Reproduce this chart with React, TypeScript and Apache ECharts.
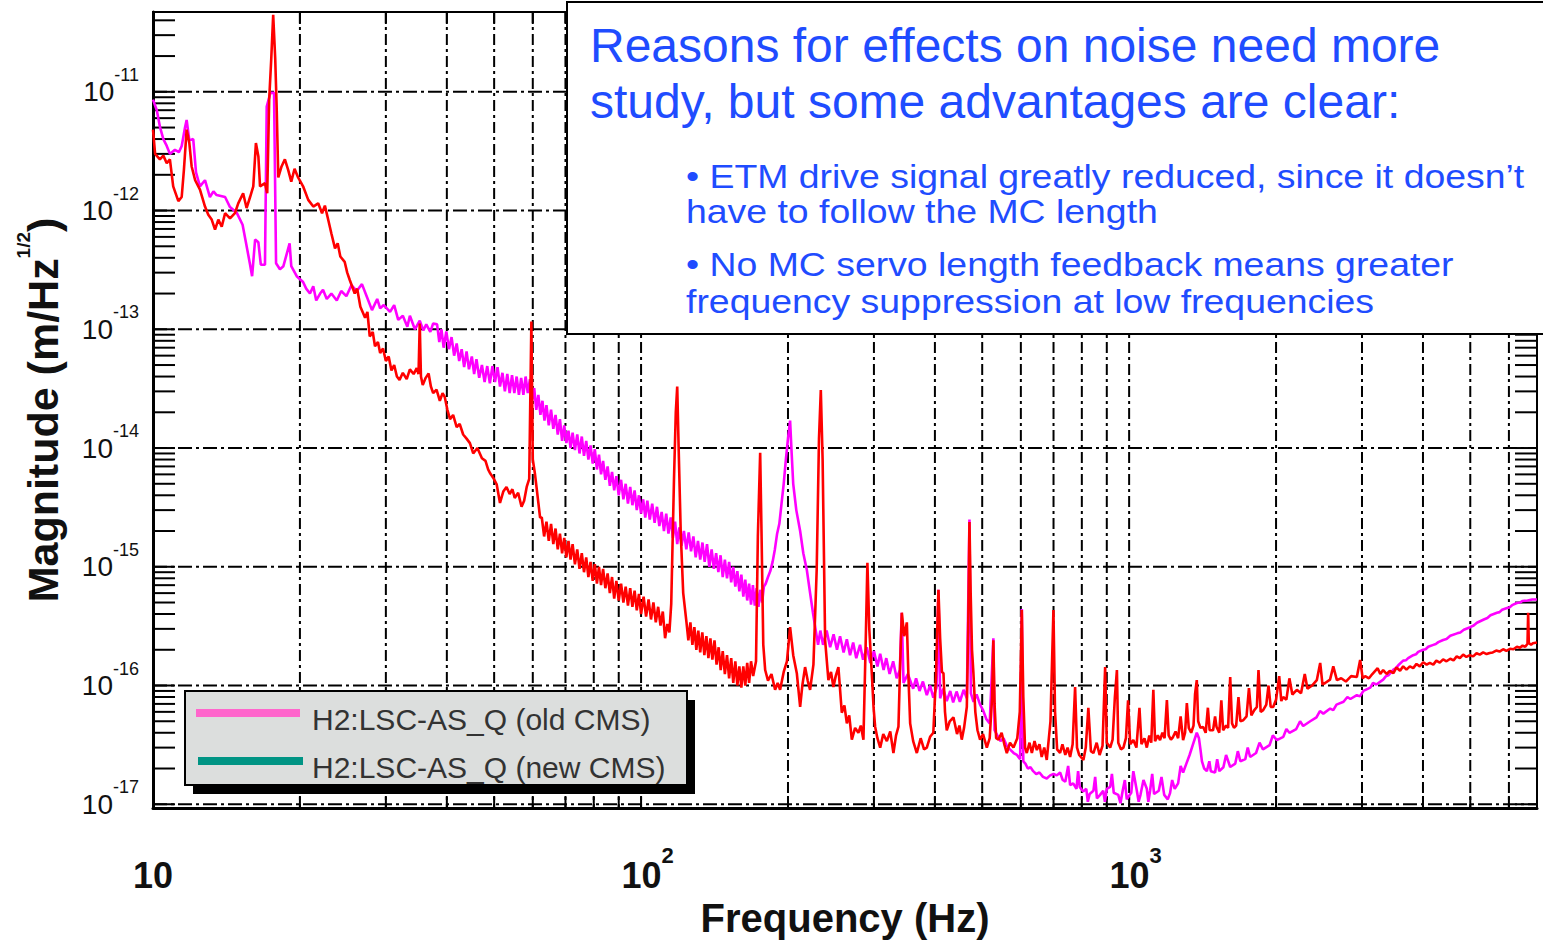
import React, { useEffect, useRef } from 'react';
import * as echarts from 'echarts';

const FONT = '"Liberation Sans", Arial, Helvetica, sans-serif';

const X_MIN = 10;
const X_MAX = 6850;
const Y_MIN = 9.3e-18;
const Y_MAX = 4.7e-11;

const X_GRID = [20, 30, 40, 50, 60, 70, 80, 90, 100, 200, 300, 400, 500, 600, 700, 800, 900, 1000, 2000, 3000, 4000, 5000, 6000];
const Y_GRID = [1e-17, 1e-16, 1e-15, 1e-14, 1e-13, 1e-12, 1e-11];
const MANTISSAS = [1, 2, 3, 4, 5, 6, 7, 8, 9];
const X_DECADES = [10, 100, 1000];

const SERIES_NAMES = ['H2:LSC-AS_Q (old CMS)', 'H2:LSC-AS_Q (new CMS)'];
const LEGEND_COLORS = ['#ff66cc', '#009484'];
const LINE_COLORS = ['#ff00ff', '#ff0000'];

const TITLE_LINES = ['Reasons for effects on noise need more', 'study, but some advantages are clear:'];
const BULLET_1 = ['\u2022 ETM drive signal greatly reduced, since it doesn\u2019t', 'have to follow the MC length'];
const BULLET_2 = ['\u2022 No MC servo length feedback means greater', 'frequency suppression at low frequencies'];

const OLD_CMS: [number, number][] = [
  [10.0, 8.6e-12], [10.18, 7.0e-12], [10.33, 5.1e-12], [10.5, 4.0e-12], [10.67, 3.5e-12], [10.83, 3.0e-12],
  [11.09, 3.25e-12], [11.3, 3.1e-12], [11.45, 3.5e-12], [11.63, 5.0e-12], [11.72, 5.8e-12], [11.87, 3.9e-12],
  [12.09, 4.0e-12], [12.25, 2.1e-12], [12.48, 1.6e-12], [12.78, 1.8e-12], [13.08, 1.3e-12], [13.3, 1.45e-12],
  [13.5, 1.35e-12], [14.05, 1.3e-12], [14.38, 1.07e-12], [14.84, 9.6e-13], [15.26, 7.6e-13], [15.5, 5.4e-13],
  [15.81, 3.5e-13], [15.96, 2.8e-13], [16.19, 5.7e-13], [16.44, 5.4e-13], [16.63, 3.5e-13], [16.96, 3.5e-13],
  [17.1, 7.5e-12], [17.4, 9.8e-12], [17.7, 9.8e-12], [17.87, 3.6e-13], [18.2, 3.2e-13], [18.5, 3.4e-13],
  [19.05, 5.3e-13], [19.2, 3.4e-13], [19.7, 2.8e-13], [20.3, 2.5e-13], [20.6, 2.2e-13], [20.97, 2.0e-13],
  [21.3, 2.3e-13], [21.6, 1.75e-13], [22.0, 2.0e-13], [22.3, 2.15e-13], [22.7, 1.8e-13], [23.2, 2.0e-13],
  [23.8, 1.75e-13], [24.3, 2.1e-13], [24.9, 1.9e-13], [25.5, 2.35e-13], [26.15, 2.1e-13], [26.8, 2.4e-13],
  [27.4, 1.9e-13], [28.1, 1.45e-13], [28.8, 1.8e-13], [29.2, 1.5e-13], [29.7, 1.6e-13], [30.6, 1.4e-13],
  [31.2, 1.6e-13], [31.8, 1.2e-13], [32.5, 1.3e-13], [33.2, 1.05e-13], [33.6, 1.3e-13], [34.4, 1.0e-13],
  [35.2, 1.18e-13], [35.8, 9.8e-14], [36.3, 1.1e-13], [37.0, 9.5e-14], [37.5, 1.12e-13],
  [38.2, 1.1e-13], [38.6, 7.8e-14], [39.0, 1.0e-13], [39.4, 7.0e-14], [39.9, 9.6e-14], [40.4, 6.8e-14],
  [40.9, 8.6e-14], [41.4, 6.0e-14], [41.9, 7.6e-14], [42.4, 5.4e-14], [42.9, 6.8e-14], [43.4, 4.8e-14],
  [43.9, 6.5e-14], [44.4, 4.6e-14], [45.0, 5.9e-14], [45.5, 4.2e-14], [46.0, 5.6e-14], [46.6, 3.9e-14],
  [47.2, 5.0e-14], [47.8, 3.6e-14], [48.4, 4.9e-14], [49.0, 3.5e-14], [49.6, 4.9e-14], [50.2, 3.6e-14],
  [50.8, 4.8e-14], [51.4, 3.3e-14], [52.0, 4.3e-14], [52.6, 3.0e-14], [53.2, 4.2e-14], [53.8, 2.9e-14],
  [54.4, 4.1e-14], [55.0, 2.9e-14], [55.6, 4.0e-14], [56.2, 2.8e-14], [56.8, 3.9e-14], [57.4, 2.8e-14],
  [58.0, 4.0e-14], [58.6, 2.9e-14], [59.2, 3.8e-14], [59.8, 2.5e-14], [60.4, 3.2e-14], [61.0, 2.1e-14],
  [61.6, 2.8e-14], [62.2, 1.9e-14], [62.8, 2.5e-14], [63.4, 1.7e-14], [64.0, 2.3e-14], [64.7, 1.55e-14],
  [65.4, 2.1e-14], [66.1, 1.45e-14], [66.8, 1.9e-14], [67.5, 1.3e-14], [68.2, 1.75e-14], [68.9, 1.15e-14],
  [69.6, 1.55e-14], [70.3, 1.1e-14], [71.0, 1.4e-14], [71.7, 1.0e-14], [72.4, 1.35e-14], [73.2, 9.6e-15],
  [74.0, 1.3e-14], [74.8, 9.0e-15], [75.6, 1.25e-14], [76.4, 8.6e-15], [77.2, 1.15e-14], [78.0, 8.0e-15],
  [78.8, 1.05e-14], [79.6, 7.4e-15], [80.4, 9.8e-15], [81.2, 6.6e-15], [82.0, 8.8e-15], [82.8, 6.0e-15],
  [83.6, 7.8e-15], [84.5, 5.4e-15], [85.4, 7.0e-15], [86.3, 4.8e-15], [87.2, 6.3e-15], [88.1, 4.4e-15],
  [89.0, 5.8e-15], [90.0, 4.0e-15], [91.0, 5.4e-15], [92.0, 3.7e-15], [93.0, 5.0e-15], [94.0, 3.4e-15],
  [95.0, 4.7e-15], [96.0, 3.3e-15], [97.0, 4.4e-15], [98.0, 3.0e-15], [99.0, 4.0e-15], [100.0, 2.8e-15],
  [101.0, 3.7e-15], [102.0, 2.6e-15], [103.0, 3.6e-15], [104.2, 2.5e-15], [105.4, 3.4e-15], [106.6, 2.35e-15],
  [107.8, 3.2e-15], [109.0, 2.2e-15], [110.2, 2.9e-15], [111.4, 2.0e-15], [112.6, 2.8e-15], [113.8, 1.9e-15],
  [115.0, 2.6e-15], [116.2, 1.75e-15], [117.4, 2.4e-15], [118.6, 1.55e-15], [119.8, 2.15e-15], [121.0, 1.5e-15],
  [122.4, 2.0e-15], [123.8, 1.4e-15], [125.2, 1.95e-15], [126.6, 1.35e-15], [128.0, 1.8e-15], [129.4, 1.2e-15],
  [130.8, 1.65e-15], [132.2, 1.15e-15], [133.6, 1.6e-15], [135.0, 1.1e-15], [136.5, 1.55e-15], [138.0, 1.0e-15],
  [139.5, 1.4e-15], [141.0, 9.6e-16], [142.5, 1.3e-15], [144.0, 9.0e-16], [145.5, 1.25e-15], [147.0, 8.2e-16],
  [148.5, 1.15e-15], [150.0, 8.0e-16], [151.5, 1.1e-15], [153.0, 7.4e-16], [154.5, 1.0e-15], [156.0, 6.8e-16],
  [157.5, 9.2e-16], [159.0, 6.2e-16], [160.5, 8.6e-16], [162.0, 5.6e-16], [163.5, 7.8e-16], [165.0, 5.2e-16],
  [166.5, 7.2e-16], [168.0, 4.8e-16], [169.5, 7.0e-16], [171.0, 4.7e-16], [172.5, 6.6e-16], [174.0, 4.6e-16],
  [175.5, 6.4e-16], [177.0, 5.0e-16], [178.5, 6.8e-16], [180.0, 7.2e-16],
  [182.0, 8.2e-16], [184.0, 9.2e-16], [186.0, 1.1e-15], [188.0, 1.4e-15], [190.0, 1.9e-15], [192.0, 2.3e-15],
  [194.0, 3.4e-15], [196.0, 5.0e-15], [198.0, 8.0e-15], [200.0, 1.2e-14], [202.0, 1.7e-14], [203.5, 9.0e-15],
  [205.0, 5.0e-15], [208.0, 3.0e-15], [211.8, 2.0e-15], [215.0, 1.3e-15], [218.6, 9.4e-16], [222.0, 6.0e-16],
  [225.0, 4.1e-16], [228.0, 2.9e-16], [230.5, 2.2e-16], [233.0, 2.9e-16], [236.0, 2.2e-16], [240.0, 2.9e-16],
  [244.0, 2.1e-16], [248.0, 2.7e-16], [252.0, 2.0e-16], [255.7, 2.6e-16], [260.0, 1.9e-16], [264.0, 2.45e-16],
  [268.0, 1.8e-16], [272.0, 2.3e-16], [276.0, 1.7e-16], [281.0, 2.2e-16], [285.0, 1.65e-16], [290.0, 2.1e-16],
  [295.0, 1.55e-16], [300.0, 1.95e-16], [305.0, 1.45e-16], [309.0, 1.85e-16], [314.0, 1.35e-16], [318.0, 1.7e-16],
  [323.0, 1.25e-16], [328.5, 1.6e-16], [334.0, 1.15e-16], [339.0, 1.35e-16], [342.0, 4.1e-16], [345.0, 1.05e-16],
  [352.0, 1.25e-16], [361.0, 9.4e-17], [366.0, 1.15e-16], [372.0, 9.0e-17], [378.0, 1.08e-16], [385.0, 8.3e-17],
  [391.0, 1.0e-16], [397.0, 7.9e-17], [403.0, 9.6e-17], [406.7, 6.4e-16], [410.0, 7.8e-17], [416.0, 9.4e-17],
  [423.0, 7.4e-17], [430.0, 9.0e-17], [436.0, 7.2e-17], [443.0, 8.9e-17], [450.0, 7.3e-17], [458.0, 9.2e-17],
  [465.0, 7.8e-17], [470.8, 2.5e-15], [474.0, 8.6e-17], [480.0, 7.3e-17], [487.0, 8.4e-17], [495.0, 6.9e-17],
  [502.0, 6.2e-17], [510.0, 5.2e-17], [518.0, 4.8e-17], [527.0, 2.5e-16], [530.0, 4.2e-17], [537.0, 3.8e-17],
  [545.0, 3.4e-17], [553.0, 3.6e-17], [561.6, 3.1e-17], [570.0, 2.9e-17], [580.0, 2.7e-17], [589.0, 2.6e-17],
  [598.0, 2.4e-17], [602.7, 4.4e-16], [607.0, 2.3e-17], [613.0, 2.2e-17], [620.0, 2.0e-17], [628.0, 2.05e-17],
  [636.0, 1.9e-17], [645.0, 1.8e-17], [655.0, 1.85e-17], [666.0, 1.7e-17], [678.0, 1.65e-17], [689.0, 1.75e-17],
  [700.0, 1.8e-17], [711.0, 1.75e-17], [722.0, 1.85e-17], [731.0, 1.6e-17], [740.0, 1.55e-17], [750.0, 2.1e-17],
  [757.0, 1.45e-17], [768.0, 1.5e-17], [780.0, 1.35e-17], [786.0, 1.9e-17], [792.0, 1.4e-17], [805.0, 1.28e-17],
  [817.0, 1.35e-17], [823.0, 1.05e-17], [830.0, 1.22e-17], [845.0, 1.3e-17], [852.0, 1.7e-17], [859.0, 1.12e-17],
  [872.0, 1.2e-17], [885.0, 1.3e-17], [892.0, 1.05e-17], [900.0, 1.35e-17], [914.5, 1.4e-17], [922.0, 1.8e-17],
  [930.0, 1.25e-17], [950.0, 1.2e-17], [960.0, 1.02e-17], [970.0, 1.3e-17], [980.0, 1.6e-17], [989.0, 1.1e-17],
  [1010.0, 1.25e-17], [1020.0, 1.9e-17], [1037.0, 1.3e-17], [1046.0, 1.05e-17], [1055.0, 1.2e-17], [1070.0, 1.6e-17],
  [1087.0, 1.35e-17], [1095.0, 1.05e-17], [1104.0, 1.3e-17], [1115.0, 1.8e-17], [1125.0, 1.22e-17], [1150.0, 1.3e-17],
  [1165.0, 1.7e-17], [1180.0, 1.2e-17], [1200.0, 1.1e-17], [1213.0, 1.24e-17], [1225.0, 1.6e-17], [1240.0, 1.35e-17],
  [1260.0, 1.5e-17], [1275.0, 2.1e-17], [1290.0, 1.85e-17], [1310.0, 2.2e-17], [1330.0, 2.6e-17], [1355.0, 3.3e-17],
  [1376.0, 4.0e-17], [1390.0, 3.6e-17], [1400.0, 2.9e-17], [1410.0, 2.3e-17], [1425.0, 2.0e-17], [1443.0, 1.9e-17],
  [1460.0, 2.3e-17], [1470.0, 1.9e-17], [1500.0, 1.85e-17], [1515.0, 2.4e-17], [1530.0, 1.9e-17], [1560.0, 2.05e-17],
  [1580.0, 2.6e-17], [1611.0, 2.06e-17], [1650.0, 2.2e-17], [1670.0, 2.8e-17], [1690.0, 2.3e-17], [1730.0, 2.4e-17],
  [1750.0, 3.0e-17], [1770.0, 2.5e-17], [1820.0, 2.7e-17], [1850.0, 3.3e-17], [1880.0, 2.9e-17], [1940.0, 3.15e-17],
  [1970.0, 3.8e-17], [2008.0, 3.47e-17], [2070.0, 3.7e-17], [2100.0, 4.3e-17], [2130.0, 4.0e-17], [2200.0, 4.3e-17],
  [2240.0, 5.0e-17], [2273.0, 4.56e-17], [2350.0, 5.0e-17], [2420.0, 5.4e-17], [2460.0, 6.1e-17], [2500.0, 5.8e-17],
  [2582.0, 6.4e-17], [2620.0, 6.2e-17], [2660.0, 6.9e-17], [2750.0, 7.3e-17], [2800.0, 8.0e-17], [2840.0, 7.7e-17],
  [2928.0, 8.3e-17], [2970.0, 8.1e-17], [3020.0, 9.0e-17], [3120.0, 9.6e-17], [3160.0, 1.05e-16], [3210.0, 1.02e-16],
  [3315.0, 1.12e-16], [3360.0, 1.2e-16], [3400.0, 1.22e-16], [3480.0, 1.36e-16], [3520.0, 1.4e-16], [3560.0, 1.48e-16],
  [3643.0, 1.62e-16], [3690.0, 1.63e-16], [3730.0, 1.7e-16], [3820.0, 1.8e-16], [3870.0, 1.83e-16], [3910.0, 1.92e-16],
  [4004.0, 2.0e-16], [4050.0, 2.02e-16], [4100.0, 2.12e-16], [4200.0, 2.2e-16], [4250.0, 2.24e-16], [4300.0, 2.32e-16],
  [4399.0, 2.42e-16], [4470.0, 2.46e-16], [4550.0, 2.62e-16], [4700.0, 2.75e-16], [4770.0, 2.8e-16], [4850.0, 2.95e-16],
  [4998.0, 3.1e-16], [5080.0, 3.2e-16], [5160.0, 3.38e-16], [5330.0, 3.6e-16], [5420.0, 3.7e-16], [5500.0, 3.9e-16],
  [5670.0, 4.1e-16], [5740.0, 4.15e-16], [5810.0, 4.35e-16], [5950.0, 4.5e-16], [6020.0, 4.55e-16], [6090.0, 4.75e-16],
  [6230.0, 4.95e-16], [6320.0, 5.0e-16], [6400.0, 5.15e-16], [6550.0, 5.2e-16], [6700.0, 5.3e-16], [6847.0, 5.3e-16],
];

const NEW_CMS: [number, number][] = [
  [10.0, 4.8e-12], [10.1, 3.0e-12], [10.33, 2.7e-12], [10.5, 2.9e-12], [10.67, 2.5e-12], [10.83, 2.7e-12],
  [11.0, 1.6e-12], [11.27, 1.2e-12], [11.45, 1.3e-12], [11.57, 2.2e-12], [11.72, 4.8e-12], [11.87, 3.7e-12],
  [12.0, 2.35e-12], [12.2, 1.8e-12], [12.48, 1.5e-12], [12.78, 1.08e-12], [12.98, 9.2e-13], [13.19, 8.4e-13],
  [13.4, 6.9e-13], [13.61, 8.4e-13], [13.83, 7.3e-13], [14.05, 9.5e-13], [14.38, 8.6e-13], [14.72, 9.5e-13],
  [14.95, 1.15e-12], [15.3, 1.4e-12], [15.55, 1.05e-12], [15.81, 1.3e-12], [16.05, 1.6e-12], [16.25, 3.7e-12],
  [16.44, 2.85e-12], [16.57, 1.6e-12], [16.96, 1.7e-12], [17.14, 1.4e-12], [17.3, 8.6e-12], [17.47, 1.9e-11],
  [17.63, 4.46e-11], [17.8, 1.9e-11], [17.92, 7.5e-12], [18.06, 1.9e-12], [18.34, 2.35e-12], [18.63, 2.7e-12],
  [18.92, 2.2e-12], [19.2, 1.75e-12], [19.5, 2.25e-12], [19.83, 1.9e-12], [20.3, 1.6e-12], [20.8, 1.23e-12],
  [21.3, 1.08e-12], [21.8, 1.15e-12], [22.2, 9.5e-13], [22.5, 1.1e-12], [22.85, 8.4e-13], [23.2, 6.4e-13],
  [23.6, 4.8e-13], [23.9, 5.3e-13], [24.2, 4.1e-13], [24.7, 3.7e-13], [25.0, 3.0e-13], [25.3, 2.6e-13],
  [25.9, 2.0e-13], [26.2, 2.2e-13], [26.6, 1.55e-13], [27.2, 1.25e-13], [27.5, 1.4e-13], [27.8, 8.7e-14],
  [28.2, 9.5e-14], [28.5, 7.2e-14], [28.9, 7.8e-14], [29.2, 6.3e-14], [29.6, 6.9e-14], [30.0, 5.4e-14],
  [30.4, 5.9e-14], [30.8, 4.5e-14], [31.2, 5.0e-14], [31.6, 4.0e-14], [32.0, 3.75e-14], [32.5, 4.3e-14],
  [33.1, 3.8e-14], [33.6, 4.6e-14], [34.2, 4.2e-14], [34.7, 4.7e-14], [35.0, 4.2e-14], [35.2, 1.12e-13],
  [35.4, 4.0e-14], [35.7, 3.4e-14], [36.2, 3.9e-14], [36.7, 4.25e-14], [37.1, 3.3e-14], [37.5, 2.9e-14],
  [38.1, 3.1e-14], [38.7, 2.5e-14], [39.2, 2.9e-14], [39.6, 2.7e-14], [40.1, 2.1e-14], [40.6, 1.75e-14],
  [41.2, 1.9e-14], [41.9, 1.5e-14], [42.5, 1.6e-14], [43.2, 1.3e-14], [43.9, 1.2e-14], [44.6, 1.1e-14],
  [45.3, 9.0e-15], [46.2, 1.0e-14], [47.2, 8.2e-15], [48.0, 7.8e-15], [48.6, 6.6e-15], [49.1, 6.1e-15],
  [49.8, 5.6e-15], [50.6, 4.95e-15], [51.4, 3.45e-15], [52.2, 4.3e-15], [53.0, 4.7e-15], [53.8, 4.1e-15],
  [54.5, 4.5e-15], [55.1, 3.8e-15], [56.0, 4.2e-15], [56.9, 3.2e-15], [57.6, 3.6e-15], [58.3, 4.7e-15],
  [59.0, 5.5e-15], [59.6, 1.16e-13], [60.0, 8.0e-15], [60.6, 6.1e-15], [61.1, 4.6e-15], [61.6, 3.45e-15],
  [62.1, 2.6e-15], [62.6, 2.6e-15], [63.3, 1.8e-15], [64.0, 2.4e-15], [64.7, 1.65e-15], [65.4, 2.3e-15],
  [66.1, 1.55e-15], [66.8, 2.1e-15], [67.5, 1.4e-15], [68.2, 1.9e-15], [68.9, 1.3e-15], [69.6, 1.75e-15],
  [70.3, 1.2e-15], [71.0, 1.65e-15], [71.7, 1.15e-15], [72.4, 1.55e-15], [73.2, 1.05e-15], [74.0, 1.4e-15],
  [74.8, 9.6e-16], [75.6, 1.3e-15], [76.4, 9.0e-16], [77.2, 1.2e-15], [78.0, 8.2e-16], [78.8, 1.1e-15],
  [79.6, 7.6e-16], [80.4, 1.05e-15], [81.2, 7.2e-16], [82.0, 1.0e-15], [82.8, 7.0e-16], [83.6, 9.6e-16],
  [84.5, 6.6e-16], [85.4, 8.8e-16], [86.3, 6.0e-16], [87.2, 8.2e-16], [88.1, 5.4e-16], [89.0, 7.6e-16],
  [90.0, 5.2e-16], [91.0, 7.2e-16], [92.0, 5.0e-16], [93.0, 6.8e-16], [94.0, 4.7e-16], [95.0, 6.6e-16],
  [96.0, 4.6e-16], [97.0, 6.3e-16], [98.0, 4.3e-16], [99.0, 5.9e-16], [100.0, 4.0e-16], [101.2, 5.6e-16],
  [102.4, 3.8e-16], [103.6, 5.3e-16], [104.8, 3.6e-16], [106.0, 5.0e-16], [107.2, 3.4e-16], [108.4, 4.6e-16],
  [109.6, 3.2e-16], [110.8, 4.2e-16], [112.0, 2.5e-16], [113.2, 3.3e-16], [114.3, 2.8e-16], [115.3, 4.9e-16],
  [116.8, 5.4e-15], [117.8, 2.0e-14], [118.6, 3.3e-14], [119.4, 1.0e-14], [120.6, 1.9e-15], [122.0, 6.0e-16],
  [123.9, 3.4e-16], [125.0, 2.4e-16], [126.2, 3.4e-16], [127.4, 2.2e-16], [128.6, 3.1e-16], [129.8, 2.0e-16],
  [131.0, 2.9e-16], [132.2, 1.9e-16], [133.5, 2.8e-16], [134.8, 1.8e-16], [136.1, 2.6e-16], [137.4, 1.7e-16],
  [138.7, 2.5e-16], [140.0, 1.65e-16], [141.4, 2.4e-16], [142.8, 1.5e-16], [144.2, 2.1e-16], [145.6, 1.35e-16],
  [147.0, 1.95e-16], [148.5, 1.25e-16], [150.0, 1.8e-16], [151.5, 1.15e-16], [153.0, 1.7e-16], [154.5, 1.05e-16],
  [156.0, 1.6e-16], [157.5, 1.0e-16], [159.0, 1.45e-16], [160.5, 9.6e-17], [162.0, 1.45e-16], [163.5, 1.0e-16],
  [165.0, 1.55e-16], [166.5, 1.05e-16], [168.0, 1.6e-16], [169.7, 1.2e-16], [172.0, 1.6e-16], [173.5, 1.8e-15],
  [175.4, 9.1e-15], [176.5, 2.0e-15], [178.0, 2.2e-16], [179.6, 1.35e-16], [182.0, 1.1e-16], [185.0, 1.25e-16],
  [188.2, 9.2e-17], [190.5, 1.05e-16], [192.7, 9.2e-17], [196.0, 1.3e-16], [199.0, 1.6e-16], [202.0, 3.1e-16],
  [205.0, 1.8e-16], [208.5, 1.27e-16], [211.8, 6.6e-17], [214.0, 1.0e-16], [216.8, 1.43e-16], [219.5, 1.1e-16],
  [222.0, 9.2e-17], [225.5, 1.5e-16], [229.0, 9.4e-16], [231.5, 1.2e-14], [233.5, 3.08e-14], [235.5, 8.0e-15],
  [238.3, 2.4e-16], [242.0, 1.11e-16], [245.0, 1.3e-16], [247.8, 9.7e-17], [250.5, 1.2e-16], [253.7, 1.43e-16],
  [257.8, 5.9e-17], [261.0, 6.8e-17], [264.0, 4.8e-17], [267.0, 5.6e-17], [270.3, 3.5e-17], [274.5, 4.4e-17],
  [278.8, 4.0e-17], [282.0, 4.6e-17], [285.5, 3.5e-17], [288.5, 2.2e-16], [290.9, 1.08e-15], [293.5, 3.0e-16],
  [297.0, 1.27e-16], [299.5, 6.5e-17], [301.7, 4.5e-17], [305.0, 3.6e-17], [309.0, 3.0e-17], [313.5, 3.9e-17],
  [318.9, 3.4e-17], [324.0, 4.1e-17], [328.9, 2.7e-17], [333.0, 3.8e-17], [336.8, 4.5e-17], [339.5, 1.5e-16],
  [342.2, 4.1e-16], [346.0, 2.6e-16], [350.4, 3.4e-16], [353.0, 1.2e-16], [355.9, 4.8e-17], [361.0, 3.4e-17],
  [367.3, 2.7e-17], [374.0, 3.6e-17], [380.0, 2.9e-17], [385.0, 3.0e-17], [391.0, 3.7e-17], [397.0, 4.0e-17],
  [402.0, 1.2e-16], [406.7, 6.4e-16], [410.0, 2.5e-16], [413.5, 1.3e-16], [416.5, 1.27e-16], [419.5, 6.0e-17],
  [423.0, 4.2e-17], [429.0, 5.0e-17], [436.5, 5.4e-17], [444.0, 3.9e-17], [449.0, 4.6e-17], [454.0, 3.5e-17],
  [459.0, 4.4e-17], [465.0, 6.6e-17], [468.0, 3.0e-16], [470.8, 2.38e-15], [473.5, 6.0e-16], [476.5, 2.0e-16],
  [479.7, 1.27e-16], [484.0, 6.0e-17], [489.0, 4.2e-17], [495.0, 3.5e-17], [502.0, 3.9e-17], [511.0, 3.0e-17],
  [518.0, 3.6e-17], [524.0, 8.0e-17], [527.0, 2.4e-16], [530.0, 7.0e-17], [534.0, 3.6e-17], [540.0, 3.5e-17],
  [548.0, 4.0e-17], [555.0, 3.2e-17], [561.6, 2.7e-17], [570.0, 3.3e-17], [579.5, 3.0e-17], [590.0, 3.6e-17],
  [597.0, 6.0e-17], [602.7, 4.33e-16], [607.0, 8.0e-17], [612.0, 3.0e-17], [617.0, 2.7e-17], [625.0, 3.3e-17],
  [632.0, 2.7e-17], [640.0, 3.4e-17], [647.0, 2.86e-17], [655.0, 3.2e-17], [662.0, 2.5e-17], [670.0, 3.0e-17],
  [678.0, 2.36e-17], [690.0, 5.0e-17], [699.7, 4.33e-16], [705.0, 6.0e-17], [712.0, 2.9e-17], [722.0, 2.7e-17],
  [730.0, 3.2e-17], [740.0, 2.6e-17], [748.0, 3.0e-17], [757.0, 2.5e-17], [766.0, 3.2e-17], [775.0, 9.7e-17],
  [782.0, 3.0e-17], [790.0, 2.6e-17], [806.0, 2.36e-17], [815.0, 3.0e-17], [825.0, 6.5e-17], [835.0, 2.8e-17],
  [845.0, 2.7e-17], [858.0, 3.3e-17], [870.0, 2.6e-17], [882.0, 3.1e-17], [893.0, 1.43e-16], [900.0, 3.3e-17],
  [914.5, 3.0e-17], [925.0, 3.5e-17], [935.0, 8.0e-17], [944.0, 1.35e-16], [950.0, 3.3e-17], [962.0, 2.9e-17],
  [973.4, 3.0e-17], [985.0, 3.6e-17], [995.0, 7.5e-17], [1005.0, 3.2e-17], [1020.0, 3.47e-17], [1035.0, 3.0e-17],
  [1050.0, 6.5e-17], [1060.0, 3.2e-17], [1075.0, 3.6e-17], [1087.0, 3.0e-17], [1100.0, 3.8e-17], [1110.0, 3.3e-17],
  [1121.0, 9.2e-17], [1130.0, 3.4e-17], [1145.0, 3.8e-17], [1157.0, 3.47e-17], [1170.0, 4.0e-17], [1182.0, 3.6e-17],
  [1195.0, 7.55e-17], [1205.0, 3.8e-17], [1218.0, 3.5e-17], [1230.0, 3.68e-17], [1245.0, 4.1e-17], [1260.0, 3.6e-17],
  [1275.0, 5.5e-17], [1290.0, 3.47e-17], [1302.0, 4.0e-17], [1313.0, 7.1e-17], [1325.0, 4.4e-17], [1340.0, 4.0e-17],
  [1355.0, 4.6e-17], [1365.0, 8.5e-17], [1376.0, 1.11e-16], [1385.0, 5.0e-17], [1400.0, 4.4e-17], [1418.0, 4.47e-17],
  [1435.0, 4.0e-17], [1450.0, 6.5e-17], [1462.0, 4.2e-17], [1486.0, 4.2e-17], [1500.0, 5.5e-17], [1510.0, 4.5e-17],
  [1530.0, 4.0e-17], [1545.0, 7.5e-17], [1558.0, 4.2e-17], [1580.0, 4.6e-17], [1595.0, 4.4e-17], [1611.0, 1.18e-16],
  [1625.0, 4.8e-17], [1640.0, 4.4e-17], [1657.0, 4.6e-17], [1675.0, 8.0e-17], [1690.0, 5.0e-17], [1713.0, 5.1e-17],
  [1740.0, 5.5e-17], [1760.0, 9.5e-17], [1780.0, 5.6e-17], [1805.0, 6.2e-17], [1827.0, 6.6e-17], [1841.0, 1.35e-16],
  [1860.0, 6.0e-17], [1882.0, 6.2e-17], [1910.0, 6.9e-17], [1930.0, 1.0e-16], [1950.0, 6.6e-17], [1973.0, 6.6e-17],
  [2000.0, 7.6e-17], [2030.0, 1.2e-16], [2050.0, 7.4e-17], [2069.0, 8.0e-17], [2100.0, 7.6e-17], [2130.0, 1.15e-16],
  [2160.0, 8.4e-17], [2206.0, 9.2e-17], [2250.0, 8.6e-17], [2290.0, 1.25e-16], [2320.0, 9.4e-17], [2370.0, 1.0e-16],
  [2424.0, 1.11e-16], [2463.0, 1.55e-16], [2490.0, 1.02e-16], [2521.0, 1.05e-16], [2580.0, 1.12e-16], [2620.0, 1.45e-16],
  [2665.0, 1.11e-16], [2720.0, 1.15e-16], [2780.0, 1.08e-16], [2850.0, 1.2e-16], [2928.0, 1.18e-16], [2974.0, 1.64e-16],
  [3010.0, 1.15e-16], [3045.0, 1.2e-16], [3100.0, 1.15e-16], [3150.0, 1.25e-16], [3230.0, 1.4e-16], [3270.0, 1.25e-16],
  [3315.0, 1.35e-16], [3370.0, 1.25e-16], [3420.0, 1.33e-16], [3480.0, 1.27e-16], [3530.0, 1.42e-16], [3590.0, 1.33e-16],
  [3643.0, 1.45e-16], [3700.0, 1.36e-16], [3760.0, 1.45e-16], [3820.0, 1.4e-16], [3880.0, 1.52e-16], [3940.0, 1.45e-16],
  [4004.0, 1.57e-16], [4070.0, 1.5e-16], [4130.0, 1.55e-16], [4200.0, 1.5e-16], [4260.0, 1.62e-16], [4330.0, 1.56e-16],
  [4399.0, 1.66e-16], [4470.0, 1.6e-16], [4550.0, 1.68e-16], [4620.0, 1.63e-16], [4690.0, 1.76e-16], [4760.0, 1.7e-16],
  [4835.0, 1.82e-16], [4910.0, 1.74e-16], [4990.0, 1.8e-16], [5070.0, 1.76e-16], [5150.0, 1.87e-16], [5230.0, 1.82e-16],
  [5314.0, 1.9e-16], [5400.0, 1.84e-16], [5480.0, 1.88e-16], [5560.0, 1.9e-16], [5650.0, 1.97e-16], [5740.0, 1.93e-16],
  [5840.0, 2.02e-16], [5930.0, 1.96e-16], [6030.0, 2.04e-16], [6130.0, 2.02e-16], [6230.0, 2.12e-16], [6320.0, 2.08e-16],
  [6400.0, 2.17e-16], [6480.0, 2.12e-16], [6550.0, 2.25e-16], [6570.0, 4.1e-16], [6590.0, 2.28e-16], [6660.0, 2.2e-16],
  [6720.0, 2.27e-16], [6847.0, 2.3e-16],
];

const Y_TICKS = Y_GRID.flatMap((d) => MANTISSAS.map((m) => m * d)).filter((v) => v <= Y_MAX);
const X_TICKS = X_DECADES.flatMap((d) => MANTISSAS.map((m) => m * d)).filter((v) => v <= X_MAX);

const isPow10 = (v: number) => {
  const l = Math.log10(v);
  return Math.abs(l - Math.round(l)) < 1e-6;
};

const BLUE = '#1f4cff';

export default function App() {
  const ref = useRef<HTMLDivElement>(null);

  useEffect(() => {
    if (!ref.current) return;
    const chart = echarts.init(ref.current, undefined, { renderer: 'svg' });

    const option: any = {
      animation: false,
      backgroundColor: '#ffffff',
      grid: {
        left: 153,
        right: 6,
        top: 12,
        bottom: 132,
        show: true,
        borderColor: '#000',
        borderWidth: 2,
        backgroundColor: 'transparent',
        outerBoundsMode: 'none',
      },
      xAxis: {
        type: 'log',
        logBase: 10,
        min: X_MIN,
        max: X_MAX,
        axisLine: { show: true, lineStyle: { color: '#000', width: 3 } },
        axisTick: { show: false },
        splitLine: { show: false },
        minorTick: { show: false },
        name: 'Frequency (Hz)',
        nameLocation: 'middle',
        nameGap: 86,
        nameTextStyle: { fontSize: 40, lineHeight: 40, fontWeight: 'bold', fontFamily: FONT, color: '#111' },
        axisLabel: {
          margin: 36,
          formatter: (v: number) => {
            if (!isPow10(v)) return '';
            const e = Math.round(Math.log10(v));
            return e === 1 ? '{b|10}' : `{p|10}{e|${e}}`;
          },
          rich: {
            b: { fontSize: 36, fontWeight: 'bold', fontFamily: FONT, color: '#111', lineHeight: 62 },
            p: { fontSize: 36, fontWeight: 'bold', fontFamily: FONT, color: '#111', lineHeight: 62, padding: [0, 0, 0, 13] },
            e: { fontSize: 22, fontWeight: 'bold', fontFamily: FONT, color: '#111', lineHeight: 22, verticalAlign: 'top' },
          },
        },
      },
      yAxis: {
        type: 'log',
        logBase: 10,
        min: Y_MIN,
        max: Y_MAX,
        axisLine: { show: true, lineStyle: { color: '#000', width: 3 } },
        axisTick: { show: false },
        splitLine: { show: false },
        minorTick: { show: false },
        name: '{n|Magnitude (m/Hz}{s|1/2}{n|)}',
        nameLocation: 'middle',
        nameRotate: 90,
        nameGap: 81,
        nameTextStyle: {
          rich: {
            n: { fontSize: 43, fontWeight: 'bold', fontFamily: FONT, color: '#111', lineHeight: 58 },
            s: { fontSize: 19, fontWeight: 'bold', fontFamily: FONT, color: '#111', lineHeight: 19, verticalAlign: 'top' },
          },
        },
        axisLabel: {
          margin: 14,
          formatter: (v: number) => (isPow10(v) ? `{b|10}{e|${Math.round(Math.log10(v))}}` : ''),
          rich: {
            b: { fontSize: 28, fontFamily: FONT, color: '#111', lineHeight: 52 },
            e: { fontSize: 18, fontFamily: FONT, color: '#111', lineHeight: 18, verticalAlign: 'top' },
          },
        },
      },
      series: [
        {
          type: 'custom',
          name: 'vgrid',
          silent: true,
          z: 1,
          data: X_GRID.map((v) => [v, Y_MIN]),
          renderItem: (params: any, api: any) => {
            const p = api.coord([api.value(0), Y_MIN]);
            const cs = params.coordSys;
            return {
              type: 'line',
              shape: { x1: p[0], y1: cs.y, x2: p[0], y2: cs.y + cs.height },
              style: { stroke: '#000', lineWidth: 2, lineDash: [11, 4, 3, 4] },
            };
          },
        },
        {
          type: 'custom',
          name: 'hgrid',
          silent: true,
          z: 1,
          data: Y_GRID.map((v) => [X_MIN, v]),
          renderItem: (params: any, api: any) => {
            const p = api.coord([X_MIN, api.value(1)]);
            const cs = params.coordSys;
            return {
              type: 'line',
              shape: { x1: cs.x, y1: p[1], x2: cs.x + cs.width, y2: p[1] },
              style: { stroke: '#000', lineWidth: 2, lineDash: [14, 4, 3, 4] },
            };
          },
        },
        {
          type: 'custom',
          name: 'yticks',
          silent: true,
          z: 1,
          data: Y_TICKS.map((v) => [X_MIN, v]),
          renderItem: (params: any, api: any) => {
            const p = api.coord([X_MIN, api.value(1)]);
            const cs = params.coordSys;
            return {
              type: 'group',
              children: [
                { type: 'line', shape: { x1: cs.x, y1: p[1], x2: cs.x + 22, y2: p[1] }, style: { stroke: '#000', lineWidth: 2 } },
                { type: 'line', shape: { x1: cs.x + cs.width - 22, y1: p[1], x2: cs.x + cs.width, y2: p[1] }, style: { stroke: '#000', lineWidth: 2 } },
              ],
            };
          },
        },
        {
          type: 'custom',
          name: 'xticks',
          silent: true,
          z: 1,
          data: X_TICKS.map((v) => [v, Y_MIN]),
          renderItem: (params: any, api: any) => {
            const p = api.coord([api.value(0), Y_MIN]);
            const cs = params.coordSys;
            return {
              type: 'group',
              children: [
                { type: 'line', shape: { x1: p[0], y1: cs.y + cs.height, x2: p[0], y2: cs.y + cs.height - 12 }, style: { stroke: '#000', lineWidth: 2 } },
                { type: 'line', shape: { x1: p[0], y1: cs.y, x2: p[0], y2: cs.y + 12 }, style: { stroke: '#000', lineWidth: 2 } },
              ],
            };
          },
        },
        {
          type: 'line',
          name: SERIES_NAMES[0],
          data: OLD_CMS,
          showSymbol: false,
          symbol: 'none',
          z: 3,
          lineStyle: { color: LINE_COLORS[0], width: 2.6 },
          itemStyle: { color: LINE_COLORS[0] },
        },
        {
          type: 'line',
          name: SERIES_NAMES[1],
          data: NEW_CMS,
          showSymbol: false,
          symbol: 'none',
          z: 4,
          lineStyle: { color: LINE_COLORS[1], width: 2.6 },
          itemStyle: { color: LINE_COLORS[1] },
        },
      ],
      graphic: [
        { type: 'rect', z: 100, shape: { x: 193, y: 700, width: 502, height: 94 }, style: { fill: '#000' } },
        { type: 'rect', z: 101, shape: { x: 185, y: 691, width: 502, height: 94 }, style: { fill: '#dcdedd', stroke: '#000', lineWidth: 2 } },
        { type: 'line', z: 102, shape: { x1: 196, y1: 713, x2: 300, y2: 713 }, style: { stroke: LEGEND_COLORS[0], lineWidth: 8 } },
        { type: 'line', z: 102, shape: { x1: 198, y1: 761, x2: 303, y2: 761 }, style: { stroke: LEGEND_COLORS[1], lineWidth: 8 } },
        { type: 'text', z: 102, x: 312, y: 719, style: { text: SERIES_NAMES[0], fontSize: 30, fontFamily: FONT, fill: '#333', verticalAlign: 'middle', align: 'left' } },
        { type: 'text', z: 102, x: 312, y: 767, style: { text: SERIES_NAMES[1], fontSize: 30, fontFamily: FONT, fill: '#333', verticalAlign: 'middle', align: 'left' } },
        { type: 'rect', z: 110, shape: { x: 567, y: 2, width: 990, height: 332 }, style: { fill: '#fff', stroke: '#000', lineWidth: 2 } },
        { type: 'text', z: 111, x: 590, y: 45, style: { text: TITLE_LINES[0], fontSize: 48, fontFamily: FONT, fill: BLUE, verticalAlign: 'middle', align: 'left' } },
        { type: 'text', z: 111, x: 590, y: 101, style: { text: TITLE_LINES[1], fontSize: 48, fontFamily: FONT, fill: BLUE, verticalAlign: 'middle', align: 'left' } },
        { type: 'text', z: 111, x: 686, y: 177, scaleX: 1.1, style: { text: BULLET_1[0], fontSize: 34, fontFamily: FONT, fill: BLUE, verticalAlign: 'middle', align: 'left' } },
        { type: 'text', z: 111, x: 686, y: 212, scaleX: 1.1, style: { text: BULLET_1[1], fontSize: 34, fontFamily: FONT, fill: BLUE, verticalAlign: 'middle', align: 'left' } },
        { type: 'text', z: 111, x: 686, y: 265, scaleX: 1.1, style: { text: BULLET_2[0], fontSize: 34, fontFamily: FONT, fill: BLUE, verticalAlign: 'middle', align: 'left' } },
        { type: 'text', z: 111, x: 686, y: 302, scaleX: 1.1, style: { text: BULLET_2[1], fontSize: 34, fontFamily: FONT, fill: BLUE, verticalAlign: 'middle', align: 'left' } },
      ],
    };

    chart.setOption(option);
    return () => {
      chart.dispose();
    };
  }, []);

  return (
    <div
      ref={ref}
      style={{ position: 'fixed', left: 0, top: 0, width: 1543, height: 940, background: '#fff' }}
    />
  );
}
